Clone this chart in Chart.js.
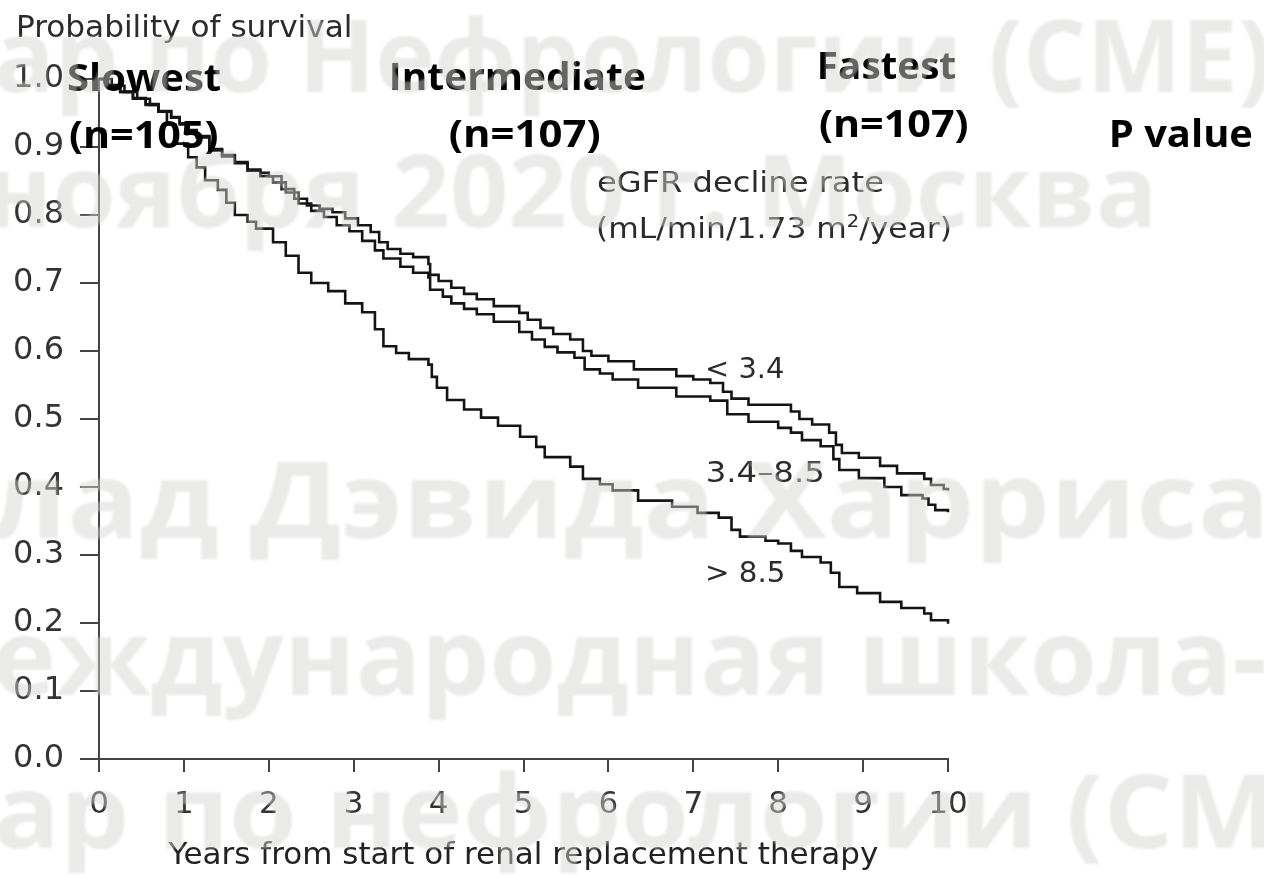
<!DOCTYPE html>
<html>
<head>
<meta charset="utf-8">
<script src="https://cdn.jsdelivr.net/npm/chart.js@4.4.1/dist/chart.umd.min.js"></script>
<style>
  html, body { margin: 0; padding: 0; background: #ffffff; }
  #wrap { width: 1264px; height: 875px; position: relative; }
  canvas { display: block; }
</style>
</head>
<body>
<div id="wrap"><canvas id="km" width="1264" height="875"></canvas></div>
<script>
// Kaplan-Meier survival by eGFR decline rate group (step points: time in years, survival)
const slowTimes = [0.00,0.10,0.25,0.40,0.55,0.70,0.85,0.95,1.05,1.15,1.30,1.45,1.60,1.75,1.90,2.00,2.15,2.30,2.45,2.60,2.75,2.90,3.05,3.20,3.30,3.40,3.55,3.70,3.88,3.90,4.00,4.15,4.30,4.45,4.65,4.95,5.05,5.20,5.35,5.55,5.70,5.80,6.00,6.30,6.80,7.00,7.20,7.35,7.45,7.65,8.15,8.25,8.40,8.60,8.68,8.75,8.95,9.20,9.40,9.72,9.80,9.95,10.00];
const slowSurv  = [1.000,0.990,0.981,0.971,0.962,0.952,0.943,0.933,0.924,0.914,0.895,0.886,0.876,0.867,0.862,0.857,0.838,0.824,0.814,0.809,0.804,0.795,0.785,0.775,0.760,0.750,0.743,0.738,0.728,0.712,0.703,0.693,0.684,0.676,0.666,0.656,0.646,0.634,0.625,0.617,0.600,0.593,0.585,0.573,0.563,0.558,0.553,0.540,0.530,0.521,0.511,0.500,0.492,0.480,0.462,0.450,0.443,0.431,0.420,0.412,0.403,0.397,0.395];

const midTimes = [0.00,0.10,0.25,0.40,0.55,0.70,0.85,0.95,1.05,1.15,1.30,1.45,1.60,1.75,1.90,2.05,2.20,2.35,2.50,2.65,2.80,2.95,3.10,3.25,3.35,3.55,3.70,3.88,3.90,4.05,4.15,4.30,4.45,4.65,4.95,5.10,5.25,5.40,5.60,5.72,5.90,6.05,6.35,6.80,7.20,7.40,7.65,8.00,8.15,8.28,8.50,8.65,8.72,8.95,9.25,9.45,9.70,9.77,9.85,10.00];
const midSurv  = [1.000,0.991,0.981,0.972,0.963,0.953,0.944,0.935,0.925,0.916,0.897,0.888,0.878,0.865,0.857,0.848,0.833,0.817,0.806,0.797,0.785,0.776,0.762,0.748,0.736,0.724,0.715,0.708,0.690,0.680,0.670,0.662,0.654,0.643,0.628,0.617,0.606,0.598,0.590,0.573,0.567,0.558,0.546,0.533,0.527,0.507,0.496,0.487,0.480,0.469,0.460,0.441,0.425,0.413,0.400,0.388,0.383,0.374,0.366,0.363];

const fastTimes = [0.00,0.15,0.30,0.45,0.60,0.70,0.80,0.90,1.05,1.15,1.25,1.40,1.50,1.60,1.75,1.85,2.05,2.20,2.35,2.50,2.70,2.90,3.10,3.25,3.35,3.50,3.65,3.88,3.92,3.98,4.10,4.30,4.50,4.70,4.96,5.15,5.25,5.55,5.70,5.90,6.05,6.35,6.75,7.05,7.30,7.45,7.55,7.85,8.00,8.15,8.28,8.50,8.62,8.72,8.93,9.20,9.45,9.72,9.80,10.00];
const fastSurv  = [1.000,0.990,0.981,0.971,0.962,0.952,0.933,0.905,0.885,0.870,0.851,0.837,0.818,0.800,0.790,0.780,0.760,0.740,0.715,0.700,0.688,0.670,0.657,0.632,0.607,0.597,0.588,0.580,0.562,0.546,0.528,0.514,0.502,0.490,0.474,0.459,0.444,0.430,0.412,0.404,0.395,0.380,0.371,0.362,0.355,0.337,0.327,0.321,0.317,0.306,0.297,0.289,0.274,0.253,0.244,0.231,0.222,0.214,0.204,0.199];

const groupNames   = ['Slowest', 'Intermediate', 'Fastest'];
const groupCounts  = ['(n=105)', '(n=107)', '(n=107)'];
const rateLabels   = ['< 3.4', '3.4\u20138.5', '> 8.5'];
const xTickLabels  = ['0','1','2','3','4','5','6','7','8','9','10'];
const yTickLabels  = ['0.0','0.1','0.2','0.3','0.4','0.5','0.6','0.7','0.8','0.9','1.0'];
const yAxisTitle   = 'Probability of survival';
const xAxisTitle   = 'Years from start of renal replacement therapy';
const pValueHeader = 'P value';
const legendTitle  = 'eGFR decline rate';
// background lettering: [hidden lead-in, visible part]
const overlayLines = [
  ['Семин', 'ар по Нефрологии (СМЕ)'],
  ['27 ', 'ноября 2020 г. Москва'],
  ['Док', 'лад Дэвида Харриса'],
  ['М', 'еждународная школа-'],
  ['Семин', 'ар по нефрологии (СМЕ)']
];

const toPoints = (ts, ss) => ts.map((t, i) => ({ x: t, y: ss[i] }));

const AXIS_FONT = '"DejaVu Sans", "Liberation Sans", Arial, sans-serif';
const BOLD_FONT = '"Open Sans", "Noto Sans", sans-serif';

// Draws a single line of text so that its ink spans [left, right] with the given baseline.
function fitText(ctx, text, font, left, right, baseline, color) {
  ctx.save();
  ctx.font = font;
  ctx.fillStyle = color;
  ctx.textAlign = 'left';
  ctx.textBaseline = 'alphabetic';
  const m = ctx.measureText(text);
  const ink = m.actualBoundingBoxLeft + m.actualBoundingBoxRight;
  const sx = (right - left) / ink;
  ctx.translate(left, baseline);
  ctx.scale(sx, 1);
  ctx.fillText(text, m.actualBoundingBoxLeft, 0);
  ctx.restore();
}

// Draws lead-in + body, stretched so that the ink of `fitPart` (a prefix of body) spans [left, right].
function overlayLine(ctx, lead, body, fitPart, left, right, baseline) {
  const m = ctx.measureText(fitPart);
  const sx = (right - left) / (m.actualBoundingBoxLeft + m.actualBoundingBoxRight);
  const leadW = ctx.measureText(lead).width;
  ctx.save();
  ctx.translate(left, baseline);
  ctx.scale(sx, 1);
  ctx.fillText(lead + body, m.actualBoundingBoxLeft - leadW, 0);
  ctx.restore();
}

const annotations = {
  id: 'annotations',
  afterDraw(chart) {
    const ctx = chart.ctx;
    const grey = '#2b2b2b';

    // axis caption above the y axis
    fitText(ctx, yAxisTitle, `30px ${AXIS_FONT}`, 18, 350, 37, grey);

    // curve labels
    fitText(ctx, rateLabels[0], `29px ${AXIS_FONT}`, 708, 783, 378, grey);
    fitText(ctx, rateLabels[1], `29px ${AXIS_FONT}`, 708, 822, 482, grey);
    fitText(ctx, rateLabels[2], `29px ${AXIS_FONT}`, 708, 783, 582, grey);

    // legend caption with unit (superscript 2)
    fitText(ctx, legendTitle, `29px ${AXIS_FONT}`, 598, 883, 192, grey);
    ctx.save();
    ctx.fillStyle = grey;
    ctx.textBaseline = 'alphabetic';
    const partA = '(mL/min/1.73 m', partB = '2', partC = '/year)';
    const fMain = `29px ${AXIS_FONT}`, fSup = `18px ${AXIS_FONT}`;
    ctx.font = fMain; const wA = ctx.measureText(partA).width, wC = ctx.measureText(partC).width;
    ctx.font = fSup;  const wB = ctx.measureText(partB).width;
    const sx = (952 - 596) / (wA + wB + wC);
    ctx.translate(596, 238);
    ctx.scale(sx, 1);
    ctx.font = fMain; ctx.fillText(partA, 0, 0);
    ctx.font = fSup;  ctx.fillText(partB, wA, -11);
    ctx.font = fMain; ctx.fillText(partC, wA + wB, 0);
    ctx.restore();

    // group headers
    const bold = `700 37px ${BOLD_FONT}`;
    fitText(ctx, groupNames[0], bold, 68, 220, 91, '#000');
    fitText(ctx, groupCounts[0], bold, 70, 218, 148, '#000');
    fitText(ctx, groupNames[1], bold, 392, 645, 90, '#000');
    fitText(ctx, groupCounts[1], bold, 450, 600, 147, '#000');
    fitText(ctx, groupNames[2], bold, 820, 955, 79, '#000');
    fitText(ctx, groupCounts[2], bold, 820, 968, 137, '#000');
    fitText(ctx, pValueHeader, bold, 1112, 1252, 147, '#000');

    // translucent lettering laid over the whole figure
    ctx.save();
    ctx.textBaseline = 'alphabetic';
    ctx.textAlign = 'left';
    ctx.fillStyle = '#d4d4ce';
    ctx.globalAlpha = 0.48;
    ctx.filter = 'blur(1.2px)';
    ctx.font = `700 100px ${BOLD_FONT}`;
    overlayLine(ctx, overlayLines[0][0], overlayLines[0][1], overlayLines[0][1], -2, 1268, 92);
    overlayLine(ctx, overlayLines[1][0], overlayLines[1][1], overlayLines[1][1], -8, 1150, 227);
    ctx.font = `700 106px ${BOLD_FONT}`;
    overlayLine(ctx, overlayLines[2][0], overlayLines[2][1], overlayLines[2][1], -10, 1262, 538);
    overlayLine(ctx, overlayLines[3][0], overlayLines[3][1], overlayLines[3][1], -4, 1264, 695);
    ctx.font = `700 102px ${BOLD_FONT}`;
    overlayLine(ctx, overlayLines[4][0], overlayLines[4][1], 'ар по нефрологии (С', -2, 1170, 848);
    ctx.restore();
  }
};

const lineStyle = { borderColor: '#141414', borderWidth: 2.6, stepped: true, pointRadius: 0, fill: false, tension: 0, clip: false };

new Chart(document.getElementById('km'), {
  type: 'line',
  data: {
    datasets: [
      { label: rateLabels[0], data: toPoints(slowTimes, slowSurv), ...lineStyle },
      { label: rateLabels[1], data: toPoints(midTimes, midSurv), ...lineStyle },
      { label: rateLabels[2], data: toPoints(fastTimes, fastSurv), ...lineStyle }
    ]
  },
  options: {
    responsive: false,
    animation: false,
    layout: { padding: { top: 79, right: 316, bottom: 0, left: 0 } },
    plugins: { legend: { display: false }, tooltip: { enabled: false } },
    scales: {
      x: {
        type: 'linear', min: 0, max: 10,
        afterFit(s) { s.height = 116; },
        ticks: {
          stepSize: 1, padding: 14, autoSkip: false, maxRotation: 0, color: '#333',
          font: { family: AXIS_FONT, size: 31 },
          callback: (v) => xTickLabels[Math.round(v)]
        },
        grid: { drawOnChartArea: false, drawTicks: true, tickLength: 13, color: '#444', lineWidth: 2 },
        border: { display: true, color: '#444', width: 2 },
        title: {
          display: true, text: xAxisTitle, color: '#222',
          font: { family: AXIS_FONT, size: 31, lineHeight: 1.2 },
          padding: { top: 0, bottom: 0 }
        }
      },
      y: {
        min: 0, max: 1,
        afterFit(s) { s.width = 99; },
        ticks: {
          stepSize: 0.1, padding: 16, color: '#333',
          font: { family: AXIS_FONT, size: 32 },
          callback: (v) => yTickLabels[Math.round(v * 10)]
        },
        grid: { drawOnChartArea: false, drawTicks: true, tickLength: 19, color: '#444', lineWidth: 2 },
        border: { display: true, color: '#444', width: 2 }
      }
    }
  },
  plugins: [annotations]
});
</script>
</body>
</html>
